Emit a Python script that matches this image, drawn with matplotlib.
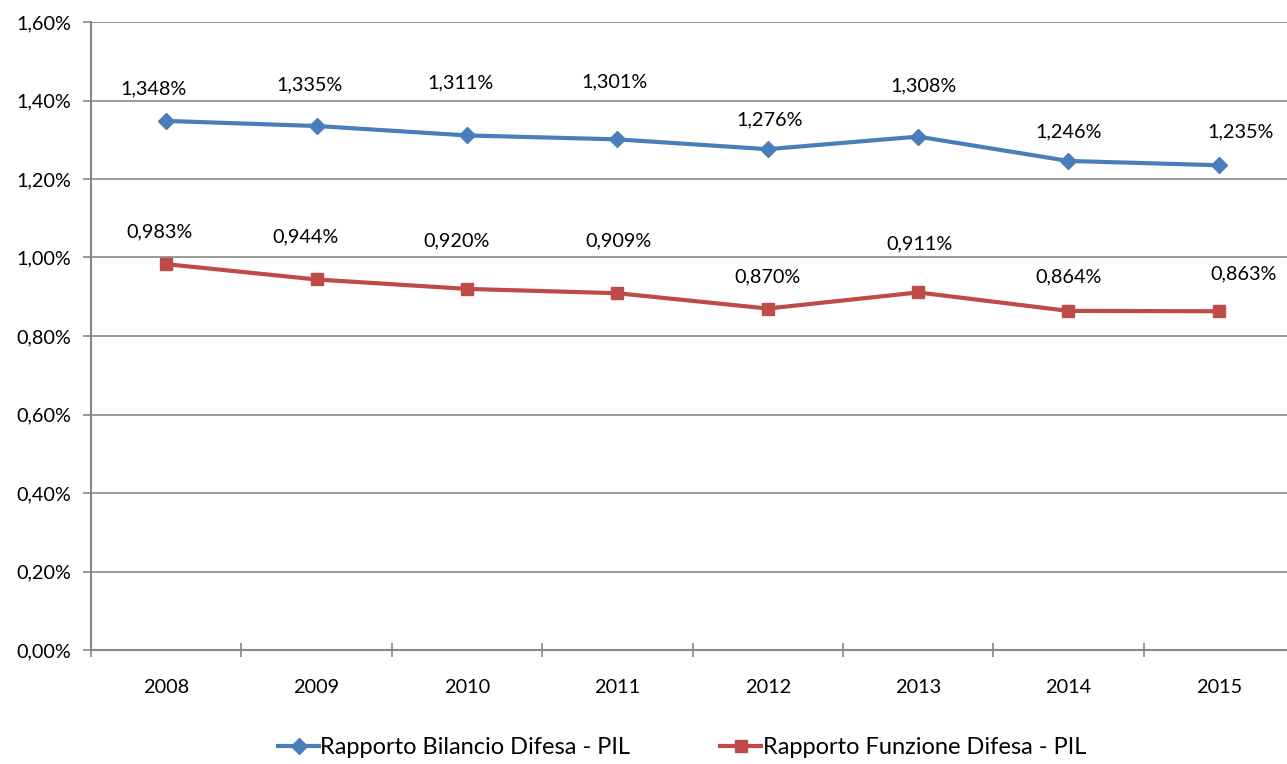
import matplotlib.pyplot as plt
from matplotlib.ticker import FuncFormatter, MultipleLocator

plt.rcParams['font.family'] = ['Lato', 'DejaVu Sans']

# Anni e rapporti percentuali sul PIL
anni = ['2008', '2009', '2010', '2011', '2012', '2013', '2014', '2015']
bilancio_pil = [1.348, 1.335, 1.311, 1.301, 1.276, 1.308, 1.246, 1.235]
funzione_pil = [0.983, 0.944, 0.920, 0.909, 0.870, 0.911, 0.864, 0.863]

# spostamento delle etichette rispetto al punto (pixel)
off_bilancio = [(-13, 32), (-7, 41), (-6, 53), (-3, 57), (2, 29), (5, 51), (0, 29), (22, 33)]
off_funzione = [(-7, 32), (-11, 43), (-10, 48), (1, 52), (0, 32), (1, 49), (0, 34), (25, 37)]

blu = '#4A7EBB'
rosso = '#BE4B48'
grigio = '#878787'

fig = plt.figure(figsize=(12.87, 7.64), dpi=100)
ax = fig.add_axes([91 / 1287, 1 - 650 / 764, 1203 / 1287, 628 / 764])

x = list(range(len(anni)))
ax.plot(x, bilancio_pil, color=blu, lw=3, marker='D', ms=8,
        label='Rapporto Bilancio Difesa - PIL', zorder=3)
ax.plot(x, funzione_pil, color=rosso, lw=3, marker='s', ms=9,
        label='Rapporto Funzione Difesa - PIL', zorder=3)

def pct(v):
    return f'{v:.3f}%'.replace('.', ',')

for xi, v, off in zip(x, bilancio_pil, off_bilancio):
    ax.annotate(pct(v), (xi, v), xytext=off, textcoords='offset pixels',
                ha='center', va='center', fontsize=14.3)
for xi, v, off in zip(x, funzione_pil, off_funzione):
    ax.annotate(pct(v), (xi, v), xytext=off, textcoords='offset pixels',
                ha='center', va='center', fontsize=14.3)

ax.set_ylim(0, 1.6)
ax.set_xlim(-0.5, len(anni) - 0.5)
ax.yaxis.set_major_locator(MultipleLocator(0.2))
ax.yaxis.set_major_formatter(FuncFormatter(lambda v, p: f'{v:.2f}%'.replace('.', ',')))
ax.grid(axis='y', color=grigio, lw=1.2)
ax.set_axisbelow(True)

# tacche tra le categorie, etichette al centro
ax.set_xticks([i - 0.5 for i in range(len(anni) + 1)])
ax.set_xticklabels([])
ax.set_xticks(x, minor=True)
ax.set_xticklabels(anni, minor=True)
ax.tick_params(axis='x', which='major', direction='inout', length=10, color=grigio, width=1.2)
ax.tick_params(axis='x', which='minor', length=0, pad=21, labelsize=14.3)
ax.tick_params(axis='y', direction='out', length=6, color=grigio, width=1.2, labelsize=14.3, pad=8)

for s in ['top', 'right']:
    ax.spines[s].set_visible(False)
for s in ['left', 'bottom']:
    ax.spines[s].set_color(grigio)
    ax.spines[s].set_linewidth(1.5)

fig.legend(loc='center', bbox_to_anchor=(682 / 1287, 1 - 748 / 764), ncol=2, frameon=False,
           fontsize=17, handlelength=1.75, handletextpad=0.05, columnspacing=3.8)

fig.savefig('out.png', dpi=100)
